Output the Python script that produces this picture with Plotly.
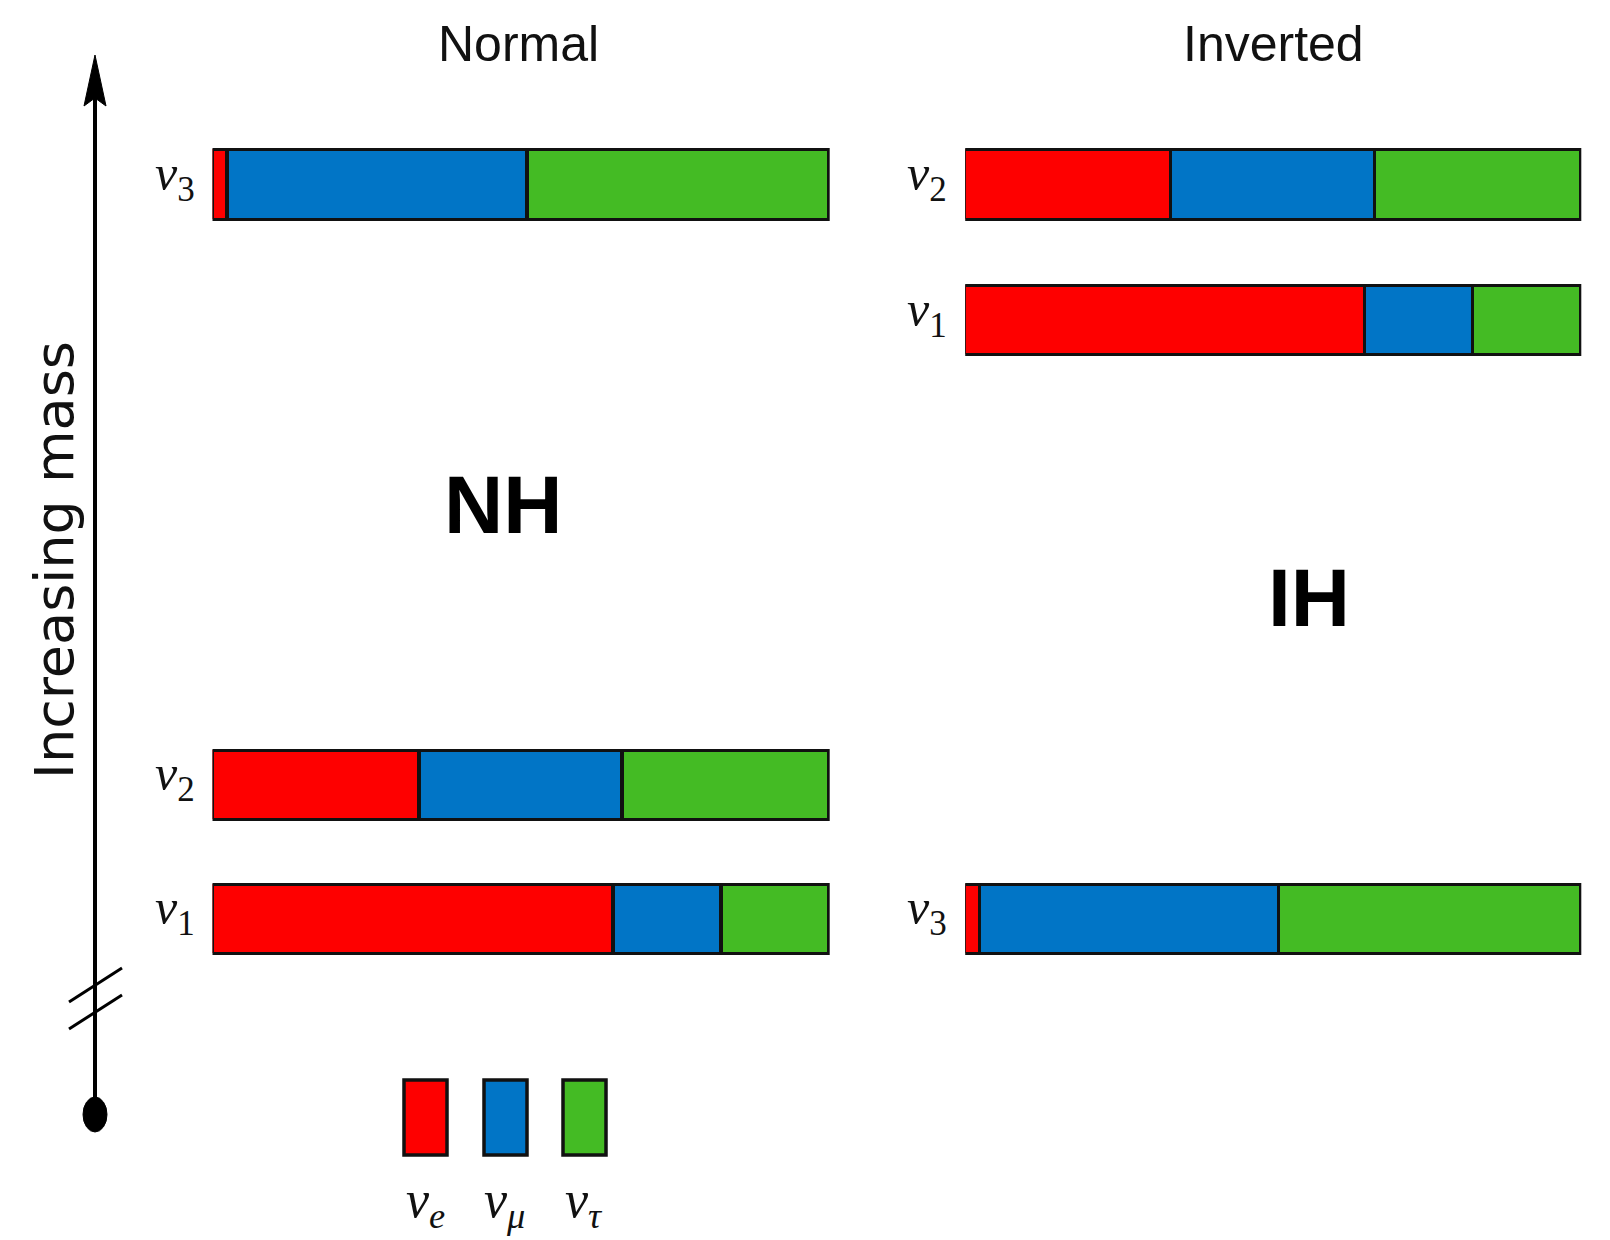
import plotly.graph_objects as go

W, H = 1610, 1240

# ---- data -------------------------------------------------------------
flavours = ["ν<sub>e</sub>", "ν<sub>μ</sub>", "ν<sub>τ</sub>"]
flavour_colors = ["#fe0000", "#0175c6", "#44bb24"]

# flavour content of each mass state (fractions of bar length)
states = ["1", "2", "3"]
frac_e = [0.65, 0.335, 0.025]
frac_mu = [0.175, 0.33, 0.485]
frac_tau = [0.175, 0.335, 0.49]

# schematic mass levels of ν1, ν2, ν3 in each ordering
normal_levels = [0.0, 1.0, 5.48]
inverted_levels = [4.47, 5.48, 0.0]

panel_titles = ["Normal", "Inverted"]
panel_tags = ["NH", "IH"]
axis_title = "Increasing mass"

# ---- helpers ----------------------------------------------------------
def px(x):
    return x / W

def py(y):
    return 1 - y / H

fracs = [frac_e, frac_mu, frac_tau]
labels = ["<i>ν</i><sub>%s</sub>" % s for s in states]

fig = go.Figure()
for axn, levels in (("", normal_levels), ("2", inverted_levels)):
    for k in range(3):
        fig.add_trace(go.Bar(
            x=fracs[k], y=levels, orientation="h", width=0.52,
            marker=dict(color=flavour_colors[k], line=dict(color="#111", width=3.5)),
            xaxis="x" + axn, yaxis="y" + axn, showlegend=False,
            hoverinfo="skip",
        ))

yr = [-2.392, 6.862]
fig.update_layout(
    width=W, height=H, margin=dict(l=0, r=0, t=0, b=0),
    paper_bgcolor="white", plot_bgcolor="rgba(0,0,0,0)",
    barmode="stack", bargap=0,
    xaxis=dict(domain=[px(212.5), px(829.7)], range=[0, 1], visible=False, anchor="y"),
    xaxis2=dict(domain=[px(965.2), px(1581.3)], range=[0, 1], visible=False, anchor="y2"),
    yaxis=dict(domain=[0, 1], range=yr, anchor="x", visible=False),
    yaxis2=dict(domain=[0, 1], range=yr, anchor="x2", visible=False),
)

shapes = []
# mass axis line
shapes.append(dict(type="line", xref="paper", yref="paper",
                   x0=px(95), x1=px(95), y0=py(1113), y1=py(92),
                   line=dict(color="black", width=4)))
# arrow head
path = "M %f,%f L %f,%f L %f,%f L %f,%f Z" % (
    px(95), py(55), px(84), py(106), px(95), py(98), px(106), py(106))
shapes.append(dict(type="path", xref="paper", yref="paper", path=path,
                   fillcolor="black", line=dict(color="black", width=1)))
# axis break marks
for dy in (0, 27):
    shapes.append(dict(type="line", xref="paper", yref="paper",
                       x0=px(69), y0=py(1002 + dy), x1=px(122), y1=py(968 + dy),
                       line=dict(color="black", width=3)))
# origin dot
shapes.append(dict(type="circle", xref="paper", yref="paper",
                   x0=px(83), x1=px(107), y0=py(1097), y1=py(1132),
                   fillcolor="black", line=dict(color="black", width=1)))
# legend swatches
legend_x = [404, 484, 563]
for k in range(3):
    shapes.append(dict(type="rect", xref="paper", yref="paper",
                       x0=px(legend_x[k]), x1=px(legend_x[k] + 43),
                       y0=py(1080), y1=py(1155),
                       fillcolor=flavour_colors[k], line=dict(color="#111", width=3.5)))
fig.update_layout(shapes=shapes)

ann = []
# state labels next to each bar
lab_font = dict(family="Liberation Serif", size=50, color="#111")
for axn, levels in (("", normal_levels), ("2", inverted_levels)):
    for lab, lev in zip(labels, levels):
        ann.append(dict(text=lab, x=0, y=lev, xref="x%s domain" % axn, yref="y" + axn,
                        xanchor="right", yanchor="middle", xshift=-16, yshift=8,
                        showarrow=False, font=lab_font))
title_font = dict(family="Liberation Sans", size=50, color="#111")
for t, x in zip(panel_titles, [518, 1273]):
    ann.append(dict(text=t, x=px(x), y=py(44), xref="paper", yref="paper",
                    showarrow=False, font=title_font, xanchor="center", yanchor="middle"))
tag_font = dict(family="Liberation Sans", size=82, color="black")
for t, (x, y) in zip(panel_tags, [(503, 504), (1309, 598)]):
    ann.append(dict(text="<b>%s</b>" % t, x=px(x), y=py(y), xref="paper", yref="paper",
                    showarrow=False, font=tag_font, xanchor="center", yanchor="middle"))
ann.append(dict(text=axis_title, x=px(54), y=py(560), xref="paper", yref="paper",
                showarrow=False, textangle=-90, xanchor="center", yanchor="middle",
                font=dict(family="DejaVu Sans", size=54, color="#111")))
for k in range(3):
    ann.append(dict(text="<i>%s</i>" % flavours[k], x=px(legend_x[k] + 21), y=py(1203),
                    xref="paper", yref="paper", showarrow=False,
                    xanchor="center", yanchor="middle",
                    font=dict(family="Liberation Serif", size=52, color="#111")))
fig.update_layout(annotations=ann)

fig.write_html("out.html", config={"displayModeBar": False},
               post_script="document.body.style.margin='0px';")
